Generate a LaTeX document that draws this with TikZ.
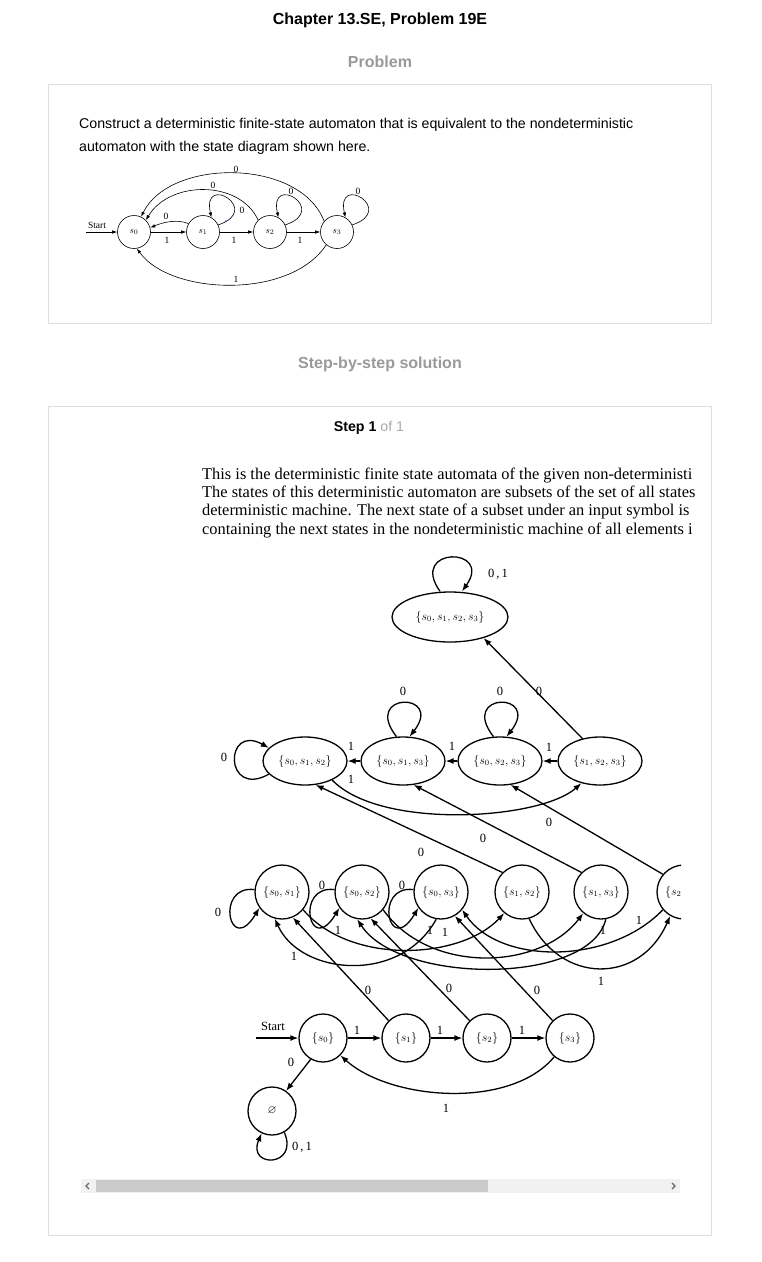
\documentclass[tikz,border=0pt]{standalone}
\usepackage{fontspec}
\usepackage{amssymb}
\setmainfont{Liberation Sans}
\newfontfamily\timesfont{Liberation Serif}
\usetikzlibrary{arrows.meta,shapes.geometric}
\definecolor{panelline}{HTML}{DDDDDD}
\definecolor{headgray}{HTML}{999999}
\definecolor{ofgray}{HTML}{AAAAAA}
\definecolor{scrolltrack}{HTML}{F1F1F1}
\definecolor{scrollthumb}{HTML}{CBCBCB}
\definecolor{chevron}{HTML}{666666}
\definecolor{specblue}{HTML}{3050E0}

\begin{document}
\begin{tikzpicture}[x=1pt,y=-1pt,
  panel/.style={draw=panelline,line width=1pt},
  heading/.style={font=\bfseries\fontsize{16}{19}\selectfont,text=headgray},
  webtext/.style={anchor=base west,inner sep=0pt,font=\fontsize{14.2}{16}\selectfont},
  paraline/.style={anchor=base west,inner sep=0pt,font=\timesfont\fontsize{16.4}{18}\selectfont},
  nstate/.style={draw,circle,line width=0.6pt,minimum size=33pt,inner sep=0pt,font=\fontsize{9.5}{10}\selectfont},
  narrow/.style={-{Latex[length=5pt,width=3.5pt]},line width=0.6pt},
  nlbl/.style={inner sep=0pt,font=\timesfont\fontsize{9.5}{10}\selectfont},
  dfastate/.style={draw,ellipse,line width=1.3pt,minimum width=84pt,minimum height=48pt,inner sep=0pt,font=\fontsize{11.5}{13}\selectfont},
  pairstate/.style={dfastate,circle,minimum size=54pt},
  onestate/.style={dfastate,circle,minimum size=48pt},
  arrow/.style={-{Latex[length=8pt,width=6pt]},line width=1.3pt},
  lbl/.style={inner sep=0pt,font=\timesfont\fontsize{12.5}{14}\selectfont}
]
\useasboundingbox (0,0) rectangle (761,1262);

% page headings and panels
\node[font=\bfseries\fontsize{16}{19}\selectfont] (title) at (380,20) {Chapter 13.SE, Problem 19E};
\node[heading] (probhead) at (380,62) {Problem};
\draw[panel] (48,84) rectangle (711,323);
\node[webtext] (q1) at (79,128) {Construct a deterministic finite-state automaton that is equivalent to the nondeterministic};
\node[webtext] (q2) at (79,151) {automaton with the state diagram shown here.};
\node[heading] (solhead) at (380,364) {Step-by-step solution};
\draw[panel] (48,406) rectangle (711,1235);
\node[font=\fontsize{14.2}{16}\selectfont] (stephead) at (369,428) {\textbf{Step 1} \textcolor{ofgray}{of 1}};

% the given nondeterministic automaton
\node[nstate] (n0) at (134,232) {$s_0$};
\node[nstate] (n1) at (203,232) {$s_1$};
\node[nstate] (n2) at (270,232) {$s_2$};
\node[nstate] (n3) at (337,232) {$s_3$};
\coordinate (nstart) at (86,232);
\node[nlbl] (nstartlbl) at (97,225) {Start};
\draw[narrow] (nstart) -- (n0);
\draw[narrow] (n0) -- (n1);
\draw[narrow] (n1) -- (n2);
\draw[narrow] (n2) -- (n3);
\draw[narrow] (n1.150) .. controls +(-12,-5) and +(12,-5) .. (n0.15);
\draw[narrow] (n1.25) .. controls +(45,-15) and +(-10,-45) .. (n1.60);
\draw[narrow] (n2.25) .. controls +(45,-15) and +(-10,-45) .. (n2.60);
\draw[narrow] (n3.25) .. controls +(45,-15) and +(-10,-45) .. (n3.60);
\draw[narrow] (n2.135) .. controls (240,180) and (170,180) .. (n0.45);
\draw[narrow] (n3.140) .. controls (300,158) and (170,158) .. (n0.65);
\draw[narrow] (n3.-130) .. controls (290,300) and (170,295) .. (n0.-80);
\fill[specblue] (226,221) circle (0.8);
\node[nlbl] (nl1) at (167,240) {1};
\node[nlbl] (nl2) at (234,240) {1};
\node[nlbl] (nl3) at (300,240) {1};
\node[nlbl] (nl4) at (166,216) {0};
\node[nlbl] (nl5) at (242,210) {0};
\node[nlbl] (nl6) at (291,191) {0};
\node[nlbl] (nl7) at (358,191) {0};
\node[nlbl] (nl8) at (213,185) {0};
\node[nlbl] (nl9) at (236,169) {0};
\node[nlbl] (nl10) at (236,279) {1};

% solution text, cut off by the scroll box
\begin{scope}
\clip (80,455) rectangle (696,545);
\node[paraline] (t1) at (202,479) {This is the deterministic finite state automata of the given non-deterministi};
\node[paraline] (t2) at (202,497) {The states of this deterministic automaton are subsets of the set of all states};
\node[paraline] (t3) at (202,515) {deterministic machine. The next state of a subset under an input symbol is};
\node[paraline] (t4) at (202,534) {containing the next states in the nondeterministic machine of all elements i};
\end{scope}

% the deterministic automaton
\begin{scope}
\clip (80,545) rectangle (681,1172);
\node[dfastate,minimum width=116pt,minimum height=50pt] (all) at (450,617) {$\{s_{0},s_{1},s_{2},s_{3}\}$};
\node[dfastate] (s012) at (305,761) {$\{s_{0},s_{1},s_{2}\}$};
\node[dfastate] (s013) at (403,761) {$\{s_{0},s_{1},s_{3}\}$};
\node[dfastate] (s023) at (500,761) {$\{s_{0},s_{2},s_{3}\}$};
\node[dfastate] (s123) at (600,761) {$\{s_{1},s_{2},s_{3}\}$};
\node[pairstate] (s01) at (282,892) {$\{s_{0},s_{1}\}$};
\node[pairstate] (s02) at (362,892) {$\{s_{0},s_{2}\}$};
\node[pairstate] (s03) at (441,892) {$\{s_{0},s_{3}\}$};
\node[pairstate] (s12) at (522,892) {$\{s_{1},s_{2}\}$};
\node[pairstate] (s13) at (601,892) {$\{s_{1},s_{3}\}$};
\node[pairstate] (s23) at (684,892) {$\{s_{2},s_{3}\}$};
\node[onestate] (s0) at (323,1038) {$\{s_{0}\}$};
\node[onestate] (s1) at (406,1038) {$\{s_{1}\}$};
\node[onestate] (s2) at (487,1038) {$\{s_{2}\}$};
\node[onestate] (s3) at (570,1038) {$\{s_{3}\}$};
\node[onestate] (none) at (272,1111) {$\varnothing$};
\coordinate (dstart) at (256,1038);

% top and second row
\draw[arrow] ([xshift=-10pt]all.north) .. controls +(-32,-45) and +(32,-45) .. ([xshift=12pt]all.north);
\draw[arrow] (s123.128) -- (all.-32);
\draw[arrow] (s123) -- (s023);
\draw[arrow] (s023) -- (s013);
\draw[arrow] (s013) -- (s012);
\draw[arrow] (s012.-35) .. controls (380,830) and (540,820) .. (s123.-130);
\draw[arrow] (s012.200) .. controls +(-45,25) and +(-45,-25) .. (s012.160);
\draw[arrow] (s013.105) .. controls +(-35,-45) and +(35,-45) .. (s013.75);
\draw[arrow] (s023.105) .. controls +(-35,-45) and +(35,-45) .. (s023.75);

% third row
\draw[arrow] (s12.135) -- (s012.-66);
\draw[arrow] (s13.135) -- (s013.-66);
\draw[arrow] (s23.140) -- (s023.-66);
\draw[arrow] (s01.175) .. controls +(-40,-5) and +(-30,50) .. (s01.215);
\draw[arrow] (s02.175) .. controls +(-40,-5) and +(-30,50) .. (s02.215);
\draw[arrow] (s03.175) .. controls +(-40,-5) and +(-30,50) .. (s03.215);
\draw[arrow] (s01.-40) .. controls (350,965) and (460,960) .. (s12.-130);
\draw[arrow] (s02.-40) .. controls (430,975) and (540,970) .. (s13.-130);
\draw[arrow] (s03.-100) .. controls (400,985) and (300,975) .. (s01.-105);
\draw[arrow] (s12.-75) .. controls (560,985) and (640,985) .. (s23.-120);
\draw[arrow] (s13.-80) .. controls (590,985) and (400,985) .. (s02.-100);
\draw[arrow] (s23.-140) .. controls (610,965) and (500,965) .. (s03.-40);

% bottom row
\draw[arrow] (dstart) -- (s0);
\draw[arrow] (s0) -- (s1);
\draw[arrow] (s1) -- (s2);
\draw[arrow] (s2) -- (s3);
\draw[arrow] (s3.-130) .. controls (510,1110) and (390,1100) .. (s0.-45);
\draw[arrow] (s0.-120) -- (none.55);
\draw[arrow] (none.-60) .. controls +(15,35) and +(-15,35) .. (none.-115);
\draw[arrow] (s1.135) -- (s01.-67);
\draw[arrow] (s2.135) -- (s02.-72);
\draw[arrow] (s3.135) -- (s03.-60);

% edge labels
\node[lbl] (l1) at (498,574) {0\,,\,1};
\node[lbl] (l2) at (539,691) {0};
\node[lbl] (l3) at (403,691) {0};
\node[lbl] (l4) at (500,691) {0};
\node[lbl] (l5) at (224,757) {0};
\node[lbl] (l6) at (351,746) {1};
\node[lbl] (l7) at (452,746) {1};
\node[lbl] (l8) at (549,747) {1};
\node[lbl] (l9) at (351,779) {1};
\node[lbl] (l10) at (421,852) {0};
\node[lbl] (l11) at (483,838) {0};
\node[lbl] (l12) at (549,822) {0};
\node[lbl] (l13) at (218,912) {0};
\node[lbl] (l14) at (322,885) {0};
\node[lbl] (l15) at (402,885) {0};
\node[lbl] (l16) at (338,930) {1};
\node[lbl] (l17) at (430,930) {1};
\node[lbl] (l18) at (445,932) {1};
\node[lbl] (l19) at (294,956) {1};
\node[lbl] (l20) at (603,930) {1};
\node[lbl] (l21) at (639,920) {1};
\node[lbl] (l22) at (601,981) {1};
\node[lbl] (l23) at (368,990) {0};
\node[lbl] (l24) at (449,988) {0};
\node[lbl] (l25) at (537,990) {0};
\node[lbl] (l26) at (273,1026) {Start};
\node[lbl] (l27) at (357,1030) {1};
\node[lbl] (l28) at (440,1030) {1};
\node[lbl] (l29) at (522,1030) {1};
\node[lbl] (l30) at (446,1108) {1};
\node[lbl] (l31) at (291,1062) {0};
\node[lbl] (l32) at (302,1147) {0\,,\,1};
\end{scope}

% scroll bar
\fill[scrolltrack] (81,1179) rectangle (680,1193);
\fill[scrollthumb] (96,1180) rectangle (488,1192);
\draw[chevron,line width=1.3pt] (89,1183) -- (86,1186) -- (89,1189);
\draw[chevron,line width=1.3pt] (672,1183) -- (675,1186) -- (672,1189);
\end{tikzpicture}
\end{document}
